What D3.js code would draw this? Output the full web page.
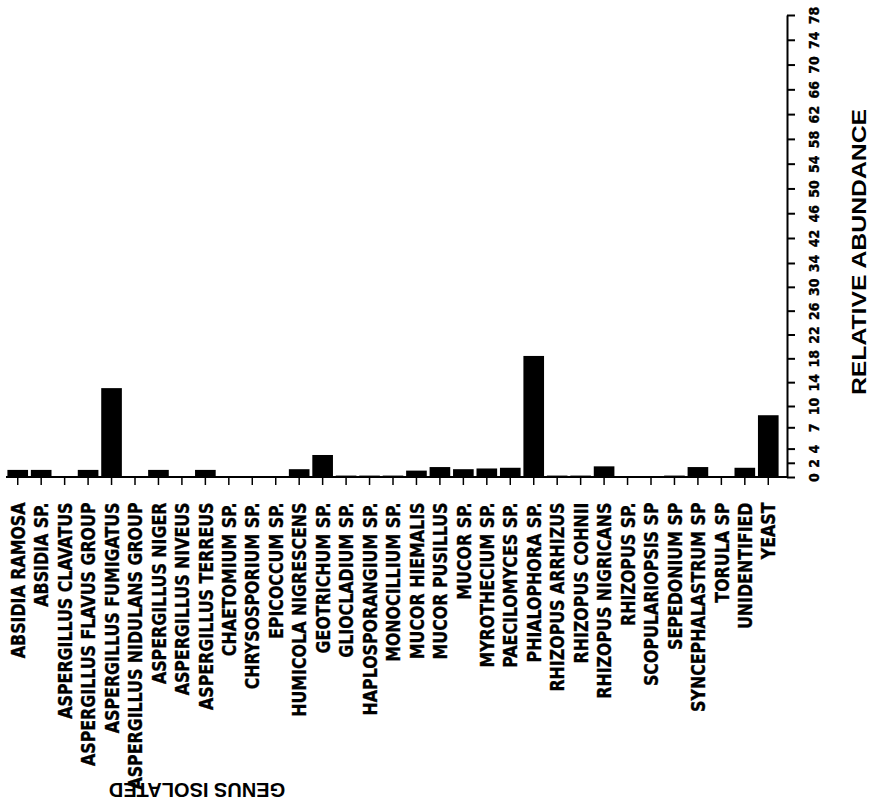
<!DOCTYPE html>
<html>
<head>
<meta charset="utf-8">
<script src="https://cdn.jsdelivr.net/npm/d3@7"></script>
<style>
  body { margin: 0; background: #fff; }
  svg { display: block; }
  .cat text, .val text { font-family: "Liberation Sans Narrow", "DejaVu Sans Condensed", sans-serif; font-weight: bold; fill: #000; stroke: #000; stroke-width: 0.35px; }
  .title { font-family: "Liberation Sans", Arial, sans-serif; font-weight: bold; fill: #000; }
</style>
</head>
<body>
<script>
// genus isolated
let genera = [
  "ABSIDIA RAMOSA", "ABSIDIA SP.", "ASPERGILLUS CLAVATUS", "ASPERGILLUS FLAVUS GROUP",
  "ASPERGILLUS FUMIGATUS", "ASPERGILLUS NIDULANS GROUP", "ASPERGILLUS NIGER",
  "ASPERGILLUS NIVEUS", "ASPERGILLUS TERREUS", "CHAETOMIUM SP.", "CHRYSOSPORIUM SP.",
  "EPICOCCUM SP.", "HUMICOLA NIGRESCENS", "GEOTRICHUM SP.", "GLIOCLADIUM SP.",
  "HAPLOSPORANGIUM SP.", "MONOCILLIUM SP.", "MUCOR HIEMALIS", "MUCOR PUSILLUS",
  "MUCOR SP.", "MYROTHECIUM SP.", "PAECILOMYCES SP.", "PHIALOPHORA SP.",
  "RHIZOPUS ARRHIZUS", "RHIZOPUS COHNII", "RHIZOPUS NIGRICANS", "RHIZOPUS SP.",
  "SCOPULARIOPSIS SP", "SEPEDONIUM SP", "SYNCEPHALASTRUM SP", "TORULA SP",
  "UNIDENTIFIED", "YEAST"
];
// relative abundance
let abundance = [
  1.0, 1.0, 0, 1.0,
  13.0, 0, 1.0,
  0, 1.0, 0, 0,
  0, 1.1, 3.1, 0.2,
  0.2, 0.2, 0.9, 1.4,
  1.1, 1.2, 1.3, 18.4,
  0.2, 0.2, 1.5, 0.1,
  0.1, 0.2, 1.4, 0.1,
  1.3, 8.7
];
// tick labels as printed on the scale
let yTicks = [0, 2, 4, 7, 10, 14, 18, 22, 26, 30, 34, 42, 46, 50, 54, 58, 62, 66, 70, 74, 78];

let width = 882, height = 802;
let axisX = 787;

let svg = d3.select("body").append("svg")
  .attr("width", width)
  .attr("height", height);

let x = d3.scaleBand()
  .domain(genera)
  .range([6, 780])
  .paddingInner(0.12)
  .paddingOuter(0.06);

// the printed scale is not evenly spaced, so follow it piece by piece
let y = d3.scaleLinear()
  .domain([0, 10, 34, 42, 78])
  .range([477, 406, 263, 238, 15]);

svg.append("g")
  .selectAll("rect")
  .data(abundance)
  .join("rect")
  .attr("x", (d, i) => x(genera[i]))
  .attr("width", x.bandwidth())
  .attr("y", d => y(d))
  .attr("height", d => y(0) - y(d))
  .attr("fill", "#000");

// category axis
let xAxis = svg.append("g")
  .attr("class", "cat")
  .attr("transform", "translate(0," + y(0) + ")")
  .call(d3.axisBottom(x).tickSize(8).tickSizeOuter(0));
xAxis.select(".domain").remove();
xAxis.append("line")
  .attr("x1", 6).attr("x2", axisX)
  .attr("stroke", "#000").attr("stroke-width", 2);
xAxis.selectAll(".tick line").attr("stroke", "#000").attr("stroke-width", 1.5);
xAxis.selectAll(".tick text")
  .attr("transform", "rotate(-90) scale(0.88,1)")
  .attr("x", -29)
  .attr("y", 0)
  .attr("dy", "0.36em")
  .style("text-anchor", "end")
  .style("font-size", "20px");

// value axis on the right
let yAxis = svg.append("g")
  .attr("class", "val")
  .attr("transform", "translate(" + axisX + ",0)")
  .call(d3.axisRight(y).tickValues(yTicks).tickSize(8).tickSizeOuter(0).tickFormat(d3.format("d")));
yAxis.select(".domain").attr("stroke", "#000").attr("stroke-width", 2);
yAxis.selectAll(".tick line").attr("stroke", "#000").attr("stroke-width", 2);
yAxis.selectAll(".tick text")
  .attr("transform", "rotate(-90)")
  .attr("x", 0)
  .attr("y", 27)
  .attr("dy", "0.36em")
  .style("text-anchor", "middle")
  .style("font-size", "14px");

svg.append("text")
  .attr("class", "title")
  .attr("transform", "translate(858,252) rotate(-90) scale(1.18,1)")
  .attr("dy", "0.36em")
  .style("text-anchor", "middle")
  .style("font-size", "21px")
  .text("RELATIVE ABUNDANCE");

svg.append("text")
  .attr("class", "title")
  .attr("transform", "translate(197,790) rotate(180)")
  .attr("dy", "0.36em")
  .style("text-anchor", "middle")
  .style("font-size", "20px")
  .text("GENUS ISOLATED");
</script>
</body>
</html>
